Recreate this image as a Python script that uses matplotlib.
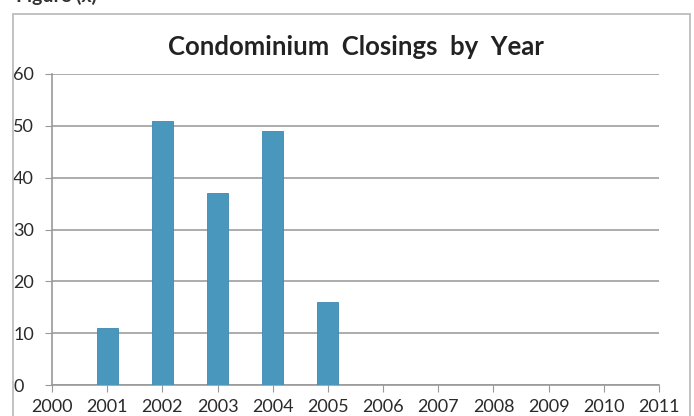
import matplotlib
matplotlib.use('Agg')
import matplotlib.pyplot as plt
from matplotlib.patches import Rectangle

# closings per year
years = [2001, 2002, 2003, 2004, 2005]
closings = [11, 51, 37, 49, 16]
xticks = list(range(2000, 2012))
yticks = [0, 10, 20, 30, 40, 50, 60]

plt.rcParams['font.family'] = ['Lato', 'DejaVu Sans']

fig = plt.figure(figsize=(6.94, 4.16), dpi=100)
W, H = 694, 416

# chart frame, runs off the bottom edge
fig.patches.append(Rectangle((13 / W, -0.1), (690 - 13) / W, 1.1 - 14 / H,
                             transform=fig.transFigure, fill=False,
                             edgecolor='#b8b8b8', linewidth=1.2))
fig.text(16 / W, 1 - 2 / H, "Figure (x)", fontsize=14, fontweight='bold',
         va='baseline', ha='left', color='#333333')

ax = fig.add_axes([52 / W, 1 - 385 / H, (659 - 52) / W, (385 - 74) / H])
ax.bar(years, closings, width=0.38, color='#4a97be', edgecolor='#3f88b0',
       linewidth=0.6, zorder=3)

ax.set_xlim(2000, 2011)
ax.set_ylim(0, 60)
ax.set_xticks(xticks)
ax.set_yticks(yticks)
ax.set_xticklabels([str(x) for x in xticks], fontsize=13, color='#2a2a2a')
ax.set_yticklabels([str(y) for y in yticks], fontsize=13, color='#2a2a2a')
ax.tick_params(axis='y', length=5, color='#999999', pad=23)
ax.tick_params(axis='x', length=5, color='#999999', pad=5)
for lab in ax.get_yticklabels():
    lab.set_horizontalalignment('left')

ax.grid(axis='y', color='#a6a6a6', linewidth=1.3, zorder=0)
for side in ['top', 'right']:
    ax.spines[side].set_visible(False)
ax.spines['left'].set_color('#999999')
ax.spines['bottom'].set_color('#999999')
ax.spines['left'].set_linewidth(1.2)
ax.spines['bottom'].set_linewidth(1.2)

ax.set_title("Condominium  Closings  by  Year", fontsize=18.5,
             fontweight='bold', color='#222222', pad=14)

fig.savefig('out.png', dpi=100)
